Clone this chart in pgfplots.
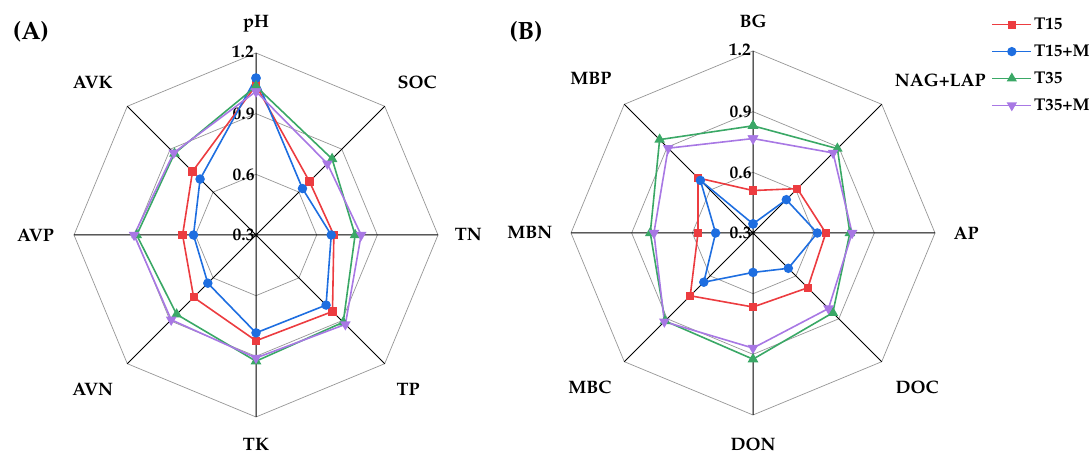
\documentclass[border=0pt]{standalone}
\usepackage[T1]{fontenc}
\usepackage{mathpazo}
\usepackage{pgfplots}
\usepackage{pgfplotstable}
\pgfplotsset{compat=1.18}
\definecolor{cR}{RGB}{236,60,64}
\definecolor{cB}{RGB}{30,110,224}
\definecolor{cG}{RGB}{58,168,102}
\definecolor{cP}{RGB}{168,120,228}
\definecolor{gridc}{RGB}{150,150,150}

% index i: 0 = top, clockwise in steps of 45 degrees; last row closes the polygon
\pgfplotstableread{
i T15 T15M T35 T35M
0 1.040 1.076 1.035 1.010
1 0.674 0.625 0.832 0.799
2 0.685 0.672 0.790 0.820
3 0.835 0.790 0.910 0.925
4 0.823 0.784 0.924 0.908
5 0.736 0.637 0.855 0.893
6 0.663 0.609 0.890 0.903
7 0.744 0.691 0.870 0.875
8 1.040 1.076 1.035 1.010
}\dataA
\pgfplotstableread{
i T15 T15M T35 T35M
0 0.510 0.345 0.830 0.767
1 0.610 0.533 0.890 0.860
2 0.660 0.618 0.779 0.790
3 0.683 0.547 0.858 0.828
4 0.666 0.495 0.924 0.869
5 0.739 0.644 0.915 0.920
6 0.572 0.485 0.808 0.790
7 0.685 0.668 0.953 0.893
8 0.510 0.345 0.830 0.767
}\dataB

\newcommand{\octa}[2]{\draw[gridc,line width=0.7pt] (0,#1) -- (#2,#2) -- (#1,0) -- (#2,-#2) -- (0,-#1) -- (-#2,-#2) -- (-#1,0) -- (-#2,#2) -- cycle;}
\newcommand{\radargrid}{%
  \octa{0.3}{0.21213}\octa{0.6}{0.42426}\octa{0.9}{0.63640}%
  \draw[black,line width=1pt] (0,0.9) -- (0,-0.9) (-0.9,0) -- (0.9,0)
     (-0.6364,-0.6364) -- (0.6364,0.6364) (-0.6364,0.6364) -- (0.6364,-0.6364);%
  \node[anchor=east,font=\ticfont,inner sep=0pt] at (-0.010,0.905) {1.2};%
  \node[anchor=east,font=\ticfont,inner sep=0pt] at (-0.006,0.6) {0.9};%
  \node[anchor=east,font=\ticfont,inner sep=0pt] at (-0.006,0.3) {0.6};%
  \node[anchor=east,font=\ticfont,inner sep=0pt] at (-0.006,0.0) {0.3};%
}
\newcommand{\ticfont}{\bfseries\fontsize{17.5}{20}\selectfont}
\newcommand{\labfont}{\bfseries\fontsize{18}{21}\selectfont}
\tikzset{lab/.style={font=\labfont, inner sep=0pt}}

\pgfplotsset{
  radar/.style={scale only axis, width=364pt, height=364pt,
    xmin=-0.9, xmax=0.9, ymin=-0.9, ymax=0.9, axis lines=none, clip=false,
    anchor=origin},
  sR/.style={color=cR, line width=1.6pt, mark=square*, mark size=3.3pt, mark options={solid,fill=cR}},
  sB/.style={color=cB, line width=1.6pt, mark=*, mark size=3.9pt, mark options={solid,fill=cB}},
  sG/.style={color=cG, line width=1.6pt, mark=triangle*, mark size=4.6pt, mark options={solid,fill=cG}},
  sP/.style={color=cP, line width=1.6pt, mark=triangle*, mark size=4.6pt, mark options={solid,fill=cP,rotate=180}},
}

\begin{document}
\begin{tikzpicture}
\path[use as bounding box] (0,0) rectangle (1092pt,454pt);
\node[font=\bfseries\fontsize{25}{29}\selectfont] at (31pt,422pt) {(A)};
\node[font=\bfseries\fontsize{25}{29}\selectfont] at (526pt,422pt) {(B)};

\begin{axis}[radar, at={(256pt,219pt)}]
\radargrid
\addplot[sR] table[x expr={(\thisrow{T15}-0.3)*sin(45*\thisrow{i})}, y expr={(\thisrow{T15}-0.3)*cos(45*\thisrow{i})}] {\dataA};
\addplot[sB] table[x expr={(\thisrow{T15M}-0.3)*sin(45*\thisrow{i})}, y expr={(\thisrow{T15M}-0.3)*cos(45*\thisrow{i})}] {\dataA};
\addplot[sG] table[x expr={(\thisrow{T35}-0.3)*sin(45*\thisrow{i})}, y expr={(\thisrow{T35}-0.3)*cos(45*\thisrow{i})}] {\dataA};
\addplot[sP] table[x expr={(\thisrow{T35M}-0.3)*sin(45*\thisrow{i})}, y expr={(\thisrow{T35M}-0.3)*cos(45*\thisrow{i})}] {\dataA};
\node[lab] at (0,1.045) {pH};
\node[lab] at (0.797,0.757) {SOC};
\node[lab] at (1.05,0) {TN};
\node[lab] at (0.752,-0.762) {TP};
\node[lab] at (0,-1.035) {TK};
\node[lab] at (-0.807,-0.762) {AVN};
\node[lab] at (-1.09,0) {AVP};
\node[lab] at (-0.807,0.757) {AVK};
\end{axis}

\begin{axis}[radar, at={(753pt,221pt)},
  legend style={at={(1.155,1.096)}, anchor=north west, draw=none, fill=none,
    font=\bfseries\fontsize{17}{20}\selectfont, inner sep=0pt, row sep=10pt,
    /tikz/every even column/.append style={column sep=8pt}},
  legend cell align=left,
  legend image code/.code={\draw[line width=1.4pt,mark repeat=2,mark phase=2] plot coordinates {(0pt,0pt) (19.5pt,0pt) (39pt,0pt)};}]
\radargrid
\addplot[sR] table[x expr={(\thisrow{T15}-0.3)*sin(45*\thisrow{i})}, y expr={(\thisrow{T15}-0.3)*cos(45*\thisrow{i})}] {\dataB};
\addlegendentry{T15}
\addplot[sB] table[x expr={(\thisrow{T15M}-0.3)*sin(45*\thisrow{i})}, y expr={(\thisrow{T15M}-0.3)*cos(45*\thisrow{i})}] {\dataB};
\addlegendentry{T15+M}
\addplot[sG] table[x expr={(\thisrow{T35}-0.3)*sin(45*\thisrow{i})}, y expr={(\thisrow{T35}-0.3)*cos(45*\thisrow{i})}] {\dataB};
\addlegendentry{T35}
\addplot[sP] table[x expr={(\thisrow{T35M}-0.3)*sin(45*\thisrow{i})}, y expr={(\thisrow{T35M}-0.3)*cos(45*\thisrow{i})}] {\dataB};
\addlegendentry{T35+M}
\node[lab] at (0,1.045) {BG};
\node[lab] at (0.926,0.757) {NAG+LAP};
\node[lab] at (1.054,0) {AP};
\node[lab] at (0.812,-0.762) {DOC};
\node[lab] at (0,-1.045) {DON};
\node[lab] at (-0.807,-0.762) {MBC};
\node[lab] at (-1.104,0) {MBN};
\node[lab] at (-0.802,0.762) {MBP};
\end{axis}
\end{tikzpicture}
\end{document}
